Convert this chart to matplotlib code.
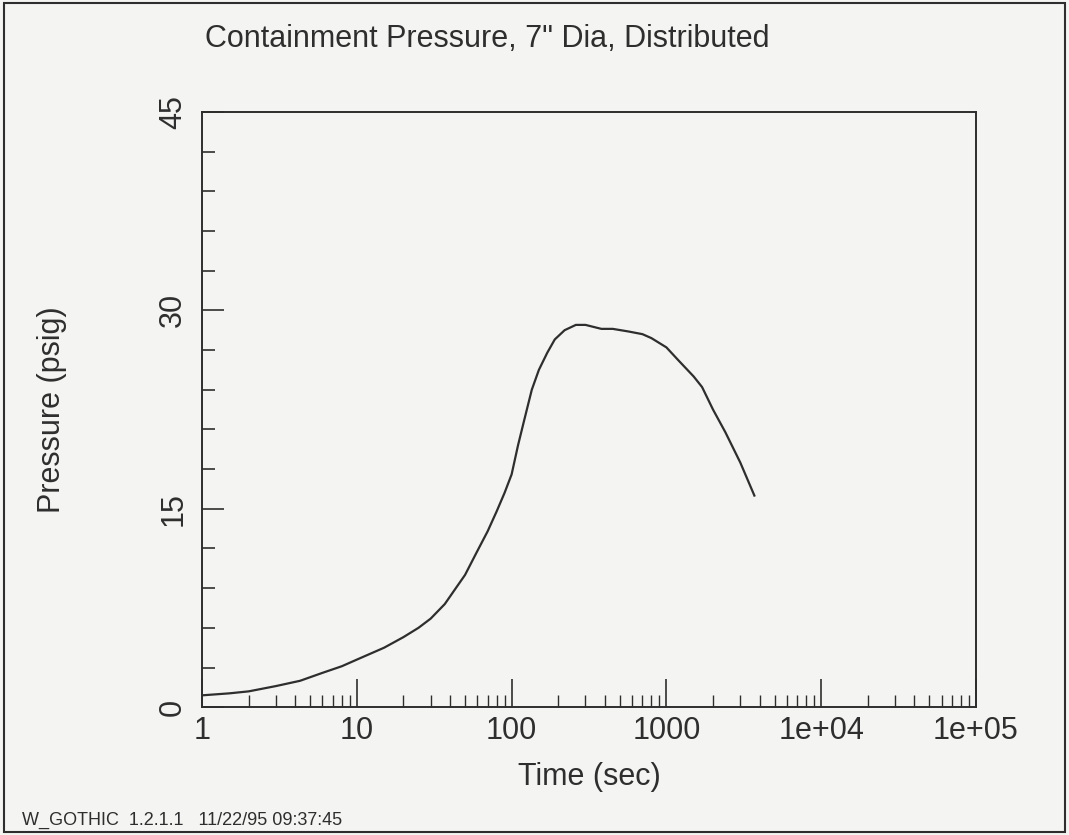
import matplotlib
matplotlib.use("Agg")
import matplotlib.pyplot as plt
from matplotlib.patches import Rectangle
from matplotlib.ticker import FixedLocator, FixedFormatter, LogLocator, NullFormatter, MultipleLocator

time_s = [1, 1.5, 2, 3, 4.3, 6, 8, 10, 15, 20, 25, 30, 37, 43, 50, 60, 70, 80, 90,
          100, 110, 120, 135, 150, 170, 190, 220, 260, 300, 380, 450, 570, 700, 800,
          1000, 1200, 1500, 1700, 2000, 2400, 3000, 3700]
pressure_psig = [0.9, 1.05, 1.2, 1.6, 2.0, 2.6, 3.1, 3.6, 4.5, 5.3, 6.0, 6.7, 7.8, 8.9,
                 10.0, 11.8, 13.3, 14.8, 16.2, 17.6, 19.8, 21.6, 24.0, 25.5, 26.8, 27.8,
                 28.5, 28.9, 28.9, 28.6, 28.6, 28.4, 28.2, 27.9, 27.2, 26.2, 25.0, 24.2,
                 22.5, 20.8, 18.5, 16.0]

x_ticks = [1, 10, 100, 1000, 1e4, 1e5]
x_tick_labels = ["1", "10", "100", "1000", "1e+04", "1e+05"]
y_ticks = [0, 15, 30, 45]
y_tick_labels = ["0", "15", "30", "45"]

title = "Containment Pressure, 7\" Dia, Distributed"
x_label = "Time (sec)"
y_label = "Pressure (psig)"
footer = "W_GOTHIC  1.2.1.1   11/22/95 09:37:45"

FONT = ["Liberation Sans Narrow", "Liberation Sans", "DejaVu Sans"]
plt.rcParams["font.family"] = FONT
INK = "#2e2e2e"
BG = "#f4f4f2"

fig = plt.figure(figsize=(10.69, 8.35), dpi=100, facecolor=BG)
ax = fig.add_axes([0.189, 0.153, 0.724, 0.713], facecolor=BG)

ax.plot(time_s, pressure_psig, color=INK, lw=1.6)
ax.set_xscale("log")
ax.set_xlim(1, 1e5)
ax.set_ylim(0, 45)

ax.xaxis.set_major_locator(FixedLocator(x_ticks))
ax.xaxis.set_major_formatter(FixedFormatter(x_tick_labels))
ax.xaxis.set_minor_locator(LogLocator(base=10, subs=range(2, 10), numticks=20))
ax.xaxis.set_minor_formatter(NullFormatter())
ax.yaxis.set_major_locator(FixedLocator(y_ticks))
ax.yaxis.set_major_formatter(FixedFormatter(y_tick_labels))
ax.yaxis.set_minor_locator(MultipleLocator(3))

ax.tick_params(axis="both", which="both", direction="in", color=INK, labelcolor=INK)
ax.tick_params(axis="x", which="major", length=20, width=1.2, labelsize=22, pad=6)
ax.tick_params(axis="x", which="minor", length=9, width=1.0)
ax.tick_params(axis="y", which="major", length=16, width=1.2, labelsize=22, pad=10)
ax.tick_params(axis="y", which="minor", length=9, width=1.2)
for lbl in ax.get_yticklabels():
    lbl.set_rotation(90)
    lbl.set_va("center")

for s in ax.spines.values():
    s.set_color(INK)
    s.set_linewidth(1.4)

ax.set_xlabel(x_label, fontsize=22, color=INK, labelpad=12)
ax.set_ylabel(y_label, fontsize=22, color=INK)
ax.yaxis.set_label_coords(-0.174, 0.5)

fig.text(0.456, 0.953, title, fontsize=22, color=INK, ha="center", va="center")
fig.text(0.021, 0.018, footer, fontsize=13, color=INK, ha="left", va="center")

fig.patches.append(Rectangle((0.004, 0.004), 0.992, 0.992, transform=fig.transFigure,
                             fill=False, edgecolor=INK, lw=1.5))

fig.savefig("out.png", dpi=100, facecolor=BG)
